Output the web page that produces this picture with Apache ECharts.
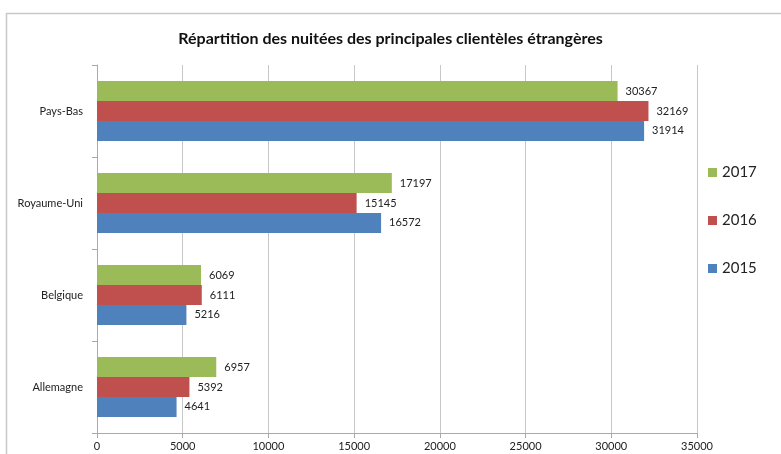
<!DOCTYPE html>
<html><head><meta charset="utf-8">
<script src="https://cdn.jsdelivr.net/npm/echarts@6/dist/echarts.min.js"></script>
<style>html,body{margin:0;padding:0;background:#fff}#c{width:781px;height:454px}</style>
</head><body><div id="c"></div>
<script>
var categories = ['Allemagne', 'Belgique', 'Royaume-Uni', 'Pays-Bas'];
var v2015 = [4641, 5216, 16572, 31914];
var v2016 = [5392, 6111, 15145, 32169];
var v2017 = [6957, 6069, 17197, 30367];
var xTicks = [0, 5000, 10000, 15000, 20000, 25000, 30000, 35000];

var font = 'Lato, "Open Sans", sans-serif';
var chart = echarts.init(document.getElementById('c'), null, {renderer: 'canvas'});
function ser(name, data, color) {
  return {
    name: name, type: 'bar', data: data, barGap: '0%', barCategoryGap: '35%',
    itemStyle: {color: color},
    label: {show: true, position: 'right', distance: 8, color: '#222', fontSize: 11, fontFamily: font}
  };
}
chart.setOption({
  animation: false,
  backgroundColor: '#fff',
  graphic: [{type: 'rect', shape: {x: 6.5, y: 13.5, width: 800, height: 500}, style: {fill: null, stroke: '#c8c8c8', lineWidth: 1.5}, silent: true, z: -1}],
  title: {text: 'Répartition des nuitées des principales clientèles étrangères', left: 'center', top: 26,
    textStyle: {fontSize: 16, fontWeight: 'bold', color: '#111', fontFamily: font}},
  grid: {left: 97, right: 84, top: 65, bottom: 21, containLabel: false},
  legend: {orient: 'vertical', left: 703, top: 160, itemGap: 33, itemWidth: 9, itemHeight: 9, icon: 'rect',
    data: ['2017', '2016', '2015'],
    textStyle: {fontSize: 15, color: '#222', fontFamily: font}},
  xAxis: {type: 'value', min: xTicks[0], max: xTicks[xTicks.length - 1], interval: 5000,
    axisLine: {show: true, lineStyle: {color: '#aaa'}},
    axisTick: {show: true, length: 5, lineStyle: {color: '#aaa'}},
    splitLine: {show: true, lineStyle: {color: '#c8c8c8'}},
    axisLabel: {fontSize: 11, color: '#222', fontFamily: font, margin: 8, formatter: function (v) { return String(v); }}},
  yAxis: {type: 'category', data: categories,
    axisLine: {show: true, lineStyle: {color: '#aaa'}},
    axisTick: {show: true, length: 5, lineStyle: {color: '#aaa'}},
    axisLabel: {fontSize: 11, color: '#222', fontFamily: font, margin: 14}},
  series: [ser('2017', v2017, '#9BBB59'), ser('2016', v2016, '#C0504D'), ser('2015', v2015, '#4F81BD')]
});
</script></body></html>
